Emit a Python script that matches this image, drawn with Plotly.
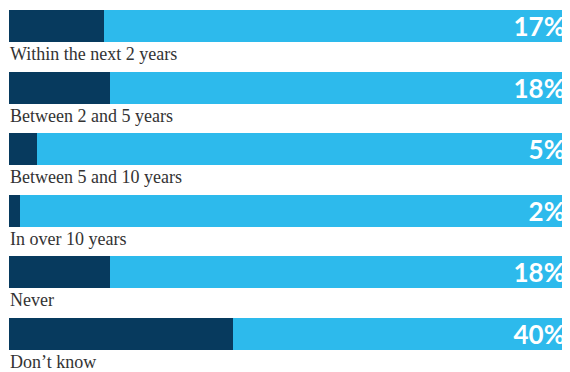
import plotly.graph_objects as go

categories = ["Within the next 2 years", "Between 2 and 5 years", "Between 5 and 10 years",
              "In over 10 years", "Never", "Don\u2019t know"]
values = [17, 18, 5, 2, 18, 40]
remainder = [100 - v for v in values]
pct_labels = [f"{v}%" for v in values]

DARK = "#073A5E"
LIGHT = "#2DBAEC"

ypos = list(range(len(categories)))

fig = go.Figure()
fig.add_trace(go.Bar(y=ypos, x=values, orientation="h", marker=dict(color=DARK, line=dict(width=0)),
                     width=0.52, hoverinfo="skip"))
fig.add_trace(go.Bar(y=ypos, x=remainder, orientation="h", marker=dict(color=LIGHT, line=dict(width=0)),
                     width=0.52, text=pct_labels, textposition="inside", insidetextanchor="end",
                     constraintext="none",
                     textfont=dict(family="Lato", size=26, color="white", weight="bold"),
                     hoverinfo="skip", cliponaxis=False))

for i, c in enumerate(categories):
    fig.add_annotation(x=0, y=i + 0.455, xref="x", yref="y", text=c, showarrow=False,
                       xanchor="left", yanchor="middle", xshift=-1,
                       font=dict(family="Liberation Serif", size=18, color="#333333"))

fig.update_layout(
    barmode="stack",
    width=562, height=364,
    margin=dict(l=1, r=2, t=0, b=0),
    paper_bgcolor="white", plot_bgcolor="white",
    showlegend=False,
    uniformtext=dict(mode=False),
    xaxis=dict(range=[0, 100], visible=False, fixedrange=True),
    yaxis=dict(range=[5.617, -0.292], visible=False, fixedrange=True),
)
fig.write_html("out.html")
